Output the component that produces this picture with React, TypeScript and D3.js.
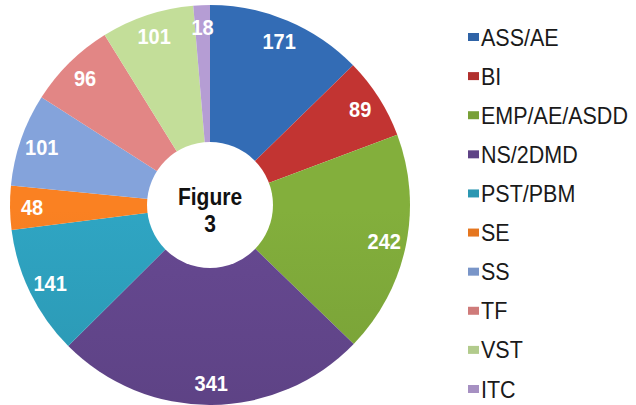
import React from "react";
import * as d3 from "d3";

const width = 636;
const height = 405;

const categories = ["ASS/AE", "BI", "EMP/AE/ASDD", "NS/2DMD", "PST/PBM", "SE", "SS", "TF", "VST", "ITC"];
const values = [171, 89, 242, 341, 141, 48, 101, 96, 101, 18];
const colors = ["#2f63a6", "#b1302e", "#78a037", "#5e4386", "#2b97b2", "#e5761f", "#7995c8", "#cf7b7a", "#b2cb8c", "#a690c2"];

const centerLines = ["Figure", "3"];

const cx = 210;
const cy = 205;
const outerR = 200;
const innerR = 63;
const labelR = 178;
const stretch = 1.1; // text in the original is slightly taller than wide

export default function App() {
  const pie = d3.pie<number>().sort(null).value(d => d);
  const arcs = pie(values);
  const arc = d3.arc<d3.PieArcDatum<number>>().innerRadius(0).outerRadius(outerR);
  const labelArc = d3.arc<d3.PieArcDatum<number>>().innerRadius(labelR).outerRadius(labelR);

  const legendY = d3.scalePoint<string>().domain(categories).range([37, 389]);

  return (
    <svg
      width={width}
      height={height}
      style={{ position: "absolute", left: 0, top: 0, background: "#fff" }}
      fontFamily="'Liberation Sans', Arial, sans-serif"
    >
      <defs>
        {colors.map((c, i) => (
          <linearGradient key={i} id={`g${i}`} gradientUnits="userSpaceOnUse" x1={0} y1={cy - outerR} x2={0} y2={cy + outerR}>
            <stop offset="0%" stopColor={d3.color(c)!.brighter(0.25).formatHex()} />
            <stop offset="100%" stopColor={d3.color(c)!.darker(0.3).formatHex()} />
          </linearGradient>
        ))}
      </defs>
      <g transform={`translate(${cx},${cy})`}>
        {arcs.map((a, i) => (
          <path key={i} d={arc(a) ?? ""} fill={`url(#g${i})`} />
        ))}
        <circle r={innerR} fill="#fff" />
        {arcs.map((a, i) => {
          const [x, y] = labelArc.centroid(a);
          return (
            <text
              key={i}
              transform={`translate(${x},${y}) scale(1,${stretch})`}
              dy="0.36em"
              textAnchor="middle"
              fill="#fff"
              fontWeight="bold"
              fontSize={20}
            >
              {values[i]}
            </text>
          );
        })}
        {centerLines.map((t, i) => (
          <text
            key={t}
            transform={`translate(0,${i === 0 ? 0 : 27}) scale(1,${stretch})`}
            textAnchor="middle"
            fontWeight="bold"
            fontSize={21}
            fill="#111"
          >
            {t}
          </text>
        ))}
      </g>
      <g>
        {categories.map((c, i) => (
          <g key={c} transform={`translate(468,${legendY(c)})`}>
            <rect x={0} y={-4} width={11} height={8} fill={colors[i]} />
            <text transform={`translate(13,0) scale(1,${stretch})`} dy="0.36em" fontSize={21.5} fill="#1a1a1a">
              {c}
            </text>
          </g>
        ))}
      </g>
    </svg>
  );
}
